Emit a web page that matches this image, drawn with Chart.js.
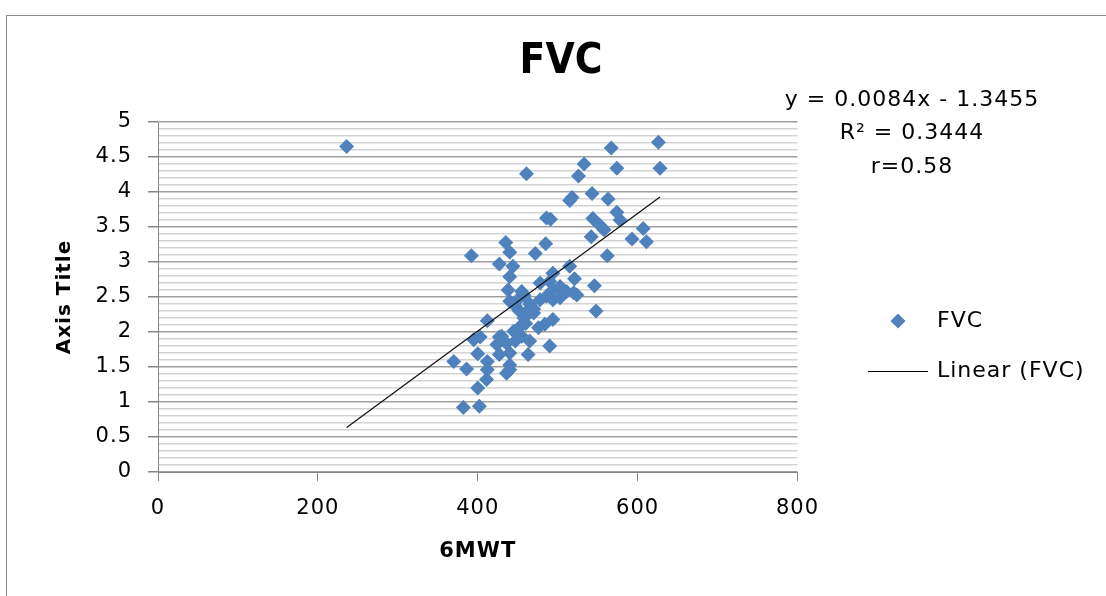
<!DOCTYPE html>
<html>
<head>
<meta charset="utf-8">
<script src="https://cdn.jsdelivr.net/npm/chart.js@4.4.0/dist/chart.umd.min.js"></script>
<style>
html,body{margin:0;padding:0;background:#fff;}
#wrap{width:1106px;height:596px;position:relative;overflow:hidden;}
canvas{display:block;}
</style>
</head>
<body>
<div id="wrap"><canvas id="c" width="1106" height="596"></canvas></div>
<script>
// ---- data ----
const walkDistance = [
  236, 626, 567, 533, 574, 628, 461, 526, 515, 518,
  543, 563, 574, 578, 486, 491, 544, 553, 558, 542,
  607, 593, 611, 485, 472, 562, 392, 435, 440, 427,
  444, 440, 494, 515, 521, 546, 548, 438, 440, 455,
  447, 461, 470, 478, 486, 494, 503, 511, 520, 524,
  478, 490, 503, 494, 449, 458, 465, 452, 494, 484,
  476, 453, 445, 455, 465, 447, 430, 436, 490, 463,
  440, 440, 436, 440, 424, 427, 427, 412, 395, 403,
  400, 370, 386, 412, 412, 411, 400, 382, 402, 458,
  470, 460, 450
];
const fvcValues = [
  4.65, 4.71, 4.63, 4.40, 4.34, 4.34, 4.26, 4.23, 3.88, 3.92,
  3.98, 3.90, 3.71, 3.60, 3.63, 3.61, 3.62, 3.52, 3.46, 3.36,
  3.48, 3.33, 3.29, 3.26, 3.12, 3.09, 3.09, 3.28, 3.14, 2.97,
  2.94, 2.79, 2.84, 2.94, 2.76, 2.66, 2.30, 2.60, 2.44, 2.58,
  2.37, 2.29, 2.27, 2.46, 2.51, 2.60, 2.65, 2.58, 2.56, 2.53,
  2.70, 2.72, 2.49, 2.46, 2.45, 2.52, 2.40, 2.30, 2.18, 2.11,
  2.06, 2.08, 2.01, 1.94, 1.87, 1.87, 1.94, 1.84, 1.80, 1.68,
  1.70, 1.46, 1.41, 1.53, 1.82, 1.68, 1.93, 2.16, 1.89, 1.93,
  1.69, 1.58, 1.47, 1.58, 1.46, 1.32, 1.20, 0.92, 0.94, 2.20,
  2.33, 2.12, 2.00
];
const xTickLabels = ['0', '200', '400', '600', '800'];
const yTickLabels = ['0', '0.5', '1', '1.5', '2', '2.5', '3', '3.5', '4', '4.5', '5'];
const trendSlope = 0.0084;
const trendIntercept = -1.3455;
const chartTitle = 'FVC';
const xAxisTitle = '6MWT';
const yAxisTitle = 'Axis Title';
const seriesName = 'FVC';
const trendName = 'Linear (FVC)';
const equationLines = ['y = 0.0084x - 1.3455', 'R\u00B2 = 0.3444', 'r=0.58'];

// ---- build library structures ----
const scatterPoints = walkDistance.map((x, i) => ({ x: x, y: fvcValues[i] }));
const xLo = Math.min(...walkDistance);
const xHi = Math.max(...walkDistance);
const trendPoints = [xLo, xHi].map(x => ({ x: x, y: trendSlope * x + trendIntercept }));

const BLUE = '#4F81BD';
const FONT = 'DejaVu Sans';
const isMajor = v => Math.abs(v * 2 - Math.round(v * 2)) < 1e-6;

const decor = {
  id: 'decor',
  beforeDraw(chart) {
    chart.ctx.letterSpacing = '1px';
  },
  afterDraw(chart) {
    const ctx = chart.ctx;
    ctx.save();
    ctx.letterSpacing = '0px';
    // outer chart border
    ctx.strokeStyle = '#8c8c8c';
    ctx.lineWidth = 1;
    ctx.strokeRect(6.5, 15.5, 1120, 620);
    // title
    ctx.fillStyle = '#000';
    ctx.textAlign = 'center';
    ctx.textBaseline = 'middle';
    ctx.font = 'bold 42px "Liberation Sans Narrow", "DejaVu Sans Condensed", sans-serif';
    ctx.fillText(chartTitle, 561, 62);
    // trendline equation
    ctx.letterSpacing = '1px';
    ctx.font = '22px ' + FONT;
    const eqY = [100, 133, 167];
    equationLines.forEach((t, i) => ctx.fillText(t, 912, eqY[i]));
    // legend
    ctx.textAlign = 'left';
    const lx = 898, ly = 321, r = 7.5;
    ctx.fillStyle = BLUE;
    ctx.beginPath();
    ctx.moveTo(lx, ly - r); ctx.lineTo(lx + r, ly); ctx.lineTo(lx, ly + r); ctx.lineTo(lx - r, ly);
    ctx.closePath(); ctx.fill();
    ctx.fillStyle = '#000';
    ctx.fillText(seriesName, 937, ly);
    ctx.strokeStyle = '#000';
    ctx.lineWidth = 1;
    ctx.beginPath(); ctx.moveTo(868, 371.5); ctx.lineTo(928, 371.5); ctx.stroke();
    ctx.fillText(trendName, 937, 371);
    ctx.restore();
  }
};

new Chart(document.getElementById('c'), {
  type: 'scatter',
  data: {
    datasets: [
      {
        type: 'line',
        label: trendName,
        data: trendPoints,
        borderColor: '#111',
        borderWidth: 1.2,
        pointRadius: 0,
        fill: false,
        order: 0
      },
      {
        label: seriesName,
        data: scatterPoints,
        pointStyle: 'rectRot',
        pointRadius: 7.5,
        pointHoverRadius: 7.5,
        backgroundColor: BLUE,
        borderColor: BLUE,
        borderWidth: 0,
        order: 1
      }
    ]
  },
  options: {
    responsive: false,
    animation: false,
    devicePixelRatio: 1,
    events: [],
    layout: { padding: { left: 0, right: 308.5, top: 122, bottom: 0 } },
    plugins: {
      legend: { display: false },
      title: { display: false },
      tooltip: { enabled: false }
    },
    scales: {
      x: {
        type: 'linear',
        min: 0,
        max: 800,
        afterFit(s) { s.height = 124; },
        ticks: {
          stepSize: 200,
          color: '#000',
          padding: 15,
          font: { family: FONT, size: 21 },
          callback: (v) => xTickLabels[Math.round(v / 200)]
        },
        grid: { drawOnChartArea: false, drawTicks: true, tickLength: 9, tickColor: '#868686' },
        border: { color: '#868686', width: 1 },
        title: {
          display: true, text: xAxisTitle, color: '#000',
          font: { family: FONT, size: 21, weight: 'bold' },
          padding: { top: 0, bottom: 32 }
        }
      },
      y: {
        type: 'linear',
        min: 0,
        max: 5,
        afterFit(s) { s.width = 158; },
        ticks: {
          stepSize: 0.1,
          autoSkip: false,
          color: '#000',
          padding: 16,
          font: { family: FONT, size: 21 },
          callback: (v) => isMajor(v) ? yTickLabels[Math.round(v * 2)] : ''
        },
        grid: {
          color: (c) => isMajor(c.tick.value) ? '#9f9f9f' : '#d3d3d3',
          lineWidth: 1.5,
          tickLength: 10,
          tickColor: (c) => isMajor(c.tick.value) ? '#868686' : 'rgba(0,0,0,0)'
        },
        border: { color: '#868686', width: 1 },
        title: {
          display: true, text: yAxisTitle, color: '#000',
          font: { family: FONT, size: 20, weight: 'bold' },
          padding: { top: 53, bottom: 0 }
        }
      }
    }
  },
  plugins: [decor]
});
</script>
</body>
</html>
